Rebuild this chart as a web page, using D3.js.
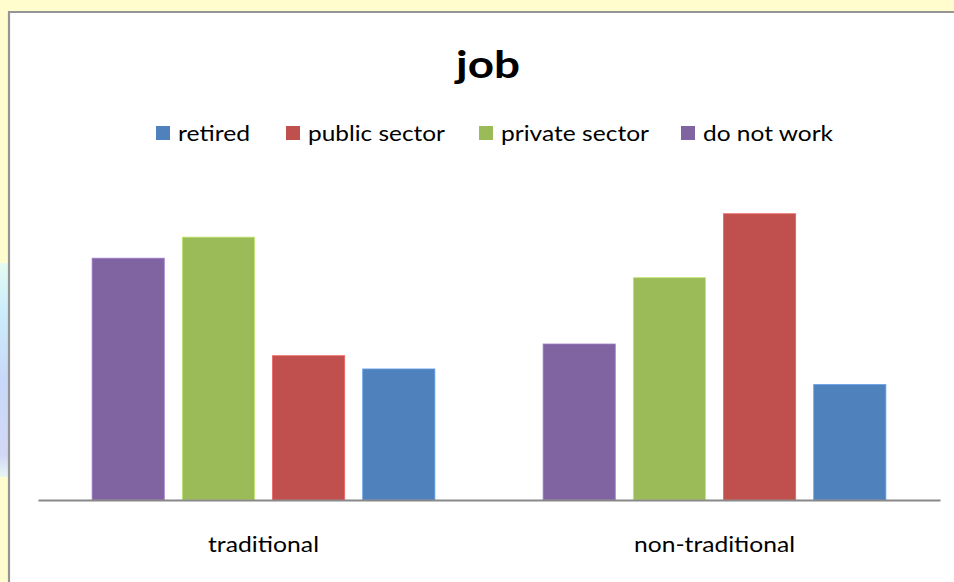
<!DOCTYPE html>
<html>
<head>
<meta charset="utf-8">
<script src="https://cdn.jsdelivr.net/npm/d3@7"></script>
<style>
  html, body { margin: 0; padding: 0; background: #fffdcd; }
  svg { display: block; }
  text { font-family: Lato, "Open Sans", sans-serif; fill: #000; }
</style>
</head>
<body>
<svg id="chart" width="954" height="582"></svg>
<script>
// Share of respondents (%) by job, for each family type
const categories = ["traditional", "non-traditional"];
const seriesNames = ["retired", "public sector", "private sector", "do not work"];
const seriesColors = ["#4f81bd", "#c0504d", "#9bbb59", "#8064a2"];
const retired       = [16.8, 14.8];
const publicSector  = [18.5, 36.7];
const privateSector = [33.7, 28.5];
const doNotWork     = [31.0, 20.0];
const title = "job";

const valuesBySeries = {
  "retired": retired,
  "public sector": publicSector,
  "private sector": privateSector,
  "do not work": doNotWork
};
// Bars run right-to-left through the legend order inside each group
const barOrder = seriesNames.slice().reverse();
const colorOf = d3.scaleOrdinal().domain(seriesNames).range(seriesColors);

const svg = d3.select("#chart");

// Page background and the chart frame
const defs = svg.append("defs");
const grad = defs.append("linearGradient").attr("id", "edge").attr("x1", 0).attr("y1", 0).attr("x2", 0).attr("y2", 1);
grad.append("stop").attr("offset", "0%").attr("stop-color", "#e6fbf2");
grad.append("stop").attr("offset", "20%").attr("stop-color", "#cdeefa");
grad.append("stop").attr("offset", "55%").attr("stop-color", "#c8d8f8");
grad.append("stop").attr("offset", "90%").attr("stop-color", "#d2d8f6");
grad.append("stop").attr("offset", "100%").attr("stop-color", "#e8f6f4");
svg.append("rect").attr("x", 0).attr("y", 263).attr("width", 8).attr("height", 214).attr("fill", "url(#edge)");

svg.append("rect").attr("x", 8).attr("y", 11).attr("width", 960).attr("height", 600)
  .attr("fill", "#ffffff");
svg.append("path").attr("d", "M9,600V12H960")
  .attr("fill", "none").attr("stroke", "#959595").attr("stroke-width", 2.2);

// Scales
const x0 = d3.scaleBand().domain(categories).range([38, 940]).paddingInner(0).paddingOuter(0);
const x1 = d3.scaleBand().domain(barOrder).range([0, x0.bandwidth()]).paddingInner(0.2).paddingOuter(0.6);
const y = d3.scaleLinear().domain([0, 40]).range([500, 188]);

// Title
svg.append("text")
  .attr("x", 488).attr("y", 78)
  .attr("text-anchor", "middle")
  .attr("font-size", 38).attr("font-weight", "bold")
  .attr("textLength", 64).attr("lengthAdjust", "spacingAndGlyphs")
  .text(title);

// Legend
const legendX = [156, 286, 479, 681];
const legendW = [72, 137, 148, 130];
const legend = svg.append("g").selectAll("g").data(seriesNames).join("g")
  .attr("transform", (d, i) => `translate(${legendX[i]},126)`);
legend.append("rect").attr("width", 14).attr("height", 14).attr("fill", d => colorOf(d));
legend.append("text")
  .attr("x", 22).attr("y", 15)
  .attr("font-size", 22)
  .attr("textLength", (d, i) => legendW[i]).attr("lengthAdjust", "spacingAndGlyphs")
  .text(d => d);

// Bars
const groups = svg.append("g").selectAll("g").data(categories).join("g")
  .attr("transform", d => `translate(${x0(d)},0)`);
groups.selectAll("rect")
  .data((c, ci) => barOrder.map(s => ({ series: s, value: valuesBySeries[s][ci] })))
  .join("rect")
  .attr("x", d => x1(d.series))
  .attr("y", d => y(d.value))
  .attr("width", x1.bandwidth())
  .attr("height", d => y(0) - y(d.value))
  .attr("fill", d => colorOf(d.series))
  .attr("stroke", d => d3.color(colorOf(d.series)).brighter(0.6))
  .attr("stroke-width", 0.8);

// Category axis
const axis = svg.append("g")
  .attr("transform", `translate(0,${y(0)})`)
  .call(d3.axisBottom(x0).tickSize(0).tickSizeOuter(0).tickPadding(36));
axis.select(".domain").attr("stroke", "#888888").attr("stroke-width", 2);
const labelW = { "traditional": 111, "non-traditional": 161 };
axis.selectAll(".tick text")
  .attr("font-size", 22).attr("font-family", "Lato, 'Open Sans', sans-serif").attr("fill", "#000")
  .attr("textLength", d => labelW[d]).attr("lengthAdjust", "spacingAndGlyphs");
</script>
</body>
</html>
